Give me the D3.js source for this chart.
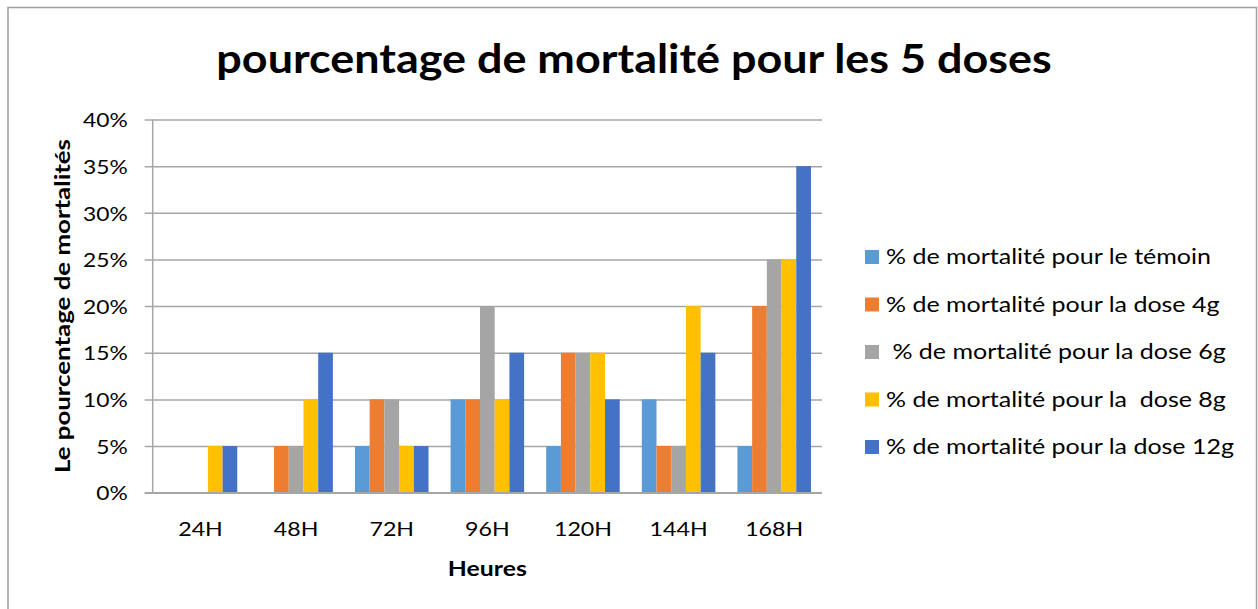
<!DOCTYPE html>
<html><head><meta charset="utf-8">
<script src="https://cdn.jsdelivr.net/npm/d3@7"></script>
<style>body{margin:0;background:#fff;} svg{display:block;}</style>
</head><body>
<svg id="chart" width="1258" height="609"></svg>
<script>
const categories = ["24H","48H","72H","96H","120H","144H","168H"];
const seriesNames = [
  "% de mortalité pour le témoin",
  "% de mortalité pour la dose 4g",
  " % de mortalité pour la dose 6g",
  "% de mortalité pour la  dose 8g",
  "% de mortalité pour la dose 12g"
];
const temoin = [0, 0, 5, 10, 5, 10, 5];
const dose4g = [0, 5, 10, 10, 15, 5, 20];
const dose6g = [0, 5, 10, 20, 15, 5, 25];
const dose8g = [5, 10, 5, 10, 15, 20, 25];
const dose12g = [5, 15, 5, 15, 10, 15, 35];
const yTicks = [0, 5, 10, 15, 20, 25, 30, 35, 40];
const colors = ["#5B9BD5", "#ED7D31", "#A5A5A5", "#FFC000", "#4472C4"];
const title = "pourcentage de mortalité pour les 5 doses";
const xTitle = "Heures";
const yTitle = "Le pourcentage de mortalités";

(function () {
const seriesValues = [temoin, dose4g, dose6g, dose8g, dose12g];
const FONT = "Lato, 'Open Sans', sans-serif";

// widen glyphs horizontally to match the reference's wider lettering
function stretch(sel, k) {
  sel.each(function () {
    const w = this.getComputedTextLength();
    d3.select(this).attr("textLength", w * k).attr("lengthAdjust", "spacingAndGlyphs");
  });
}

const svg = d3.select("#chart");
svg.append("rect").attr("x", 8).attr("y", 7.5).attr("width", 1248.5).attr("height", 640)
  .attr("fill", "#fff").attr("stroke", "#a0a0a0").attr("stroke-width", 1.5);

const pL = 152.7, pR = 822, pT = 119.5, pB = 492.7;
const x0 = d3.scaleBand().domain(categories).range([pL, pR]).paddingInner(0).paddingOuter(0);
const groupW = x0.bandwidth() * 5 / 6.5;
const x1 = d3.scaleBand().domain(d3.range(5)).range([0, groupW]);
const y = d3.scaleLinear().domain([0, 40]).range([pB, pT]);

const yAxis = d3.axisLeft(y).tickValues(yTicks).tickSize(-(pR - pL)).tickFormat(d => d + "%").tickPadding(25);
const gy = svg.append("g").attr("transform", `translate(${pL},0)`).call(yAxis);
gy.select(".domain").remove();
gy.selectAll(".tick line").attr("stroke", "#a6a6a6").attr("stroke-width", 1.5).attr("x1", -8);
gy.selectAll(".tick text").attr("font-family", FONT).attr("font-size", 20).attr("fill", "#000").attr("dy", "0.36em");
stretch(gy.selectAll(".tick text"), 1.14);

seriesValues.forEach((vals, si) => {
  svg.append("g").selectAll("rect").data(vals).join("rect")
    .attr("x", (d, i) => x0(categories[i]) + (x0.bandwidth() - groupW) / 2 + x1(si))
    .attr("width", x1.bandwidth())
    .attr("y", d => y(d))
    .attr("height", d => y(0) - y(d))
    .attr("fill", colors[si]);
});

svg.append("line").attr("x1", pL).attr("x2", pL).attr("y1", pT).attr("y2", pB)
  .attr("stroke", "#a6a6a6").attr("stroke-width", 1.5);
svg.append("line").attr("x1", pL - 8).attr("x2", pR).attr("y1", pB).attr("y2", pB)
  .attr("stroke", "#a6a6a6").attr("stroke-width", 1.5);

const xAxis = d3.axisBottom(x0).tickSize(0).tickPadding(29);
const gx = svg.append("g").attr("transform", `translate(0,${pB})`).call(xAxis);
gx.select(".domain").remove();
gx.selectAll(".tick text").attr("font-family", FONT).attr("font-size", 20).attr("fill", "#000");
stretch(gx.selectAll(".tick text"), 1.16);

const tt = svg.append("text").attr("x", 634).attr("y", 73).attr("text-anchor", "middle")
  .attr("font-family", FONT).attr("font-weight", "bold").attr("font-size", 41).attr("fill", "#000").text(title);
stretch(tt, 1.095);
const xt = svg.append("text").attr("x", (pL + pR) / 2).attr("y", 576).attr("text-anchor", "middle")
  .attr("font-family", FONT).attr("font-weight", "bold").attr("font-size", 21).attr("fill", "#000").text(xTitle);
stretch(xt, 1.18);
const yt = svg.append("text").attr("transform", `translate(70,${(pT + pB) / 2}) rotate(-90)`).attr("text-anchor", "middle")
  .attr("font-family", FONT).attr("font-weight", "bold").attr("font-size", 21).attr("fill", "#000").text(yTitle);
stretch(yt, 1.23);

const legY = d3.scalePoint().domain(d3.range(5)).range([257, 447]);
const lg = svg.append("g");
seriesNames.forEach((name, i) => {
  lg.append("rect").attr("x", 865).attr("y", legY(i) - 7).attr("width", 14).attr("height", 14).attr("fill", colors[i]);
  const lt = lg.append("text").attr("x", 886).attr("y", legY(i) + 7).attr("font-family", FONT).attr("font-size", 21)
    .attr("fill", "#000").style("white-space", "pre").text(name);
  stretch(lt, 1.19);
});
})();
</script>
</body></html>
